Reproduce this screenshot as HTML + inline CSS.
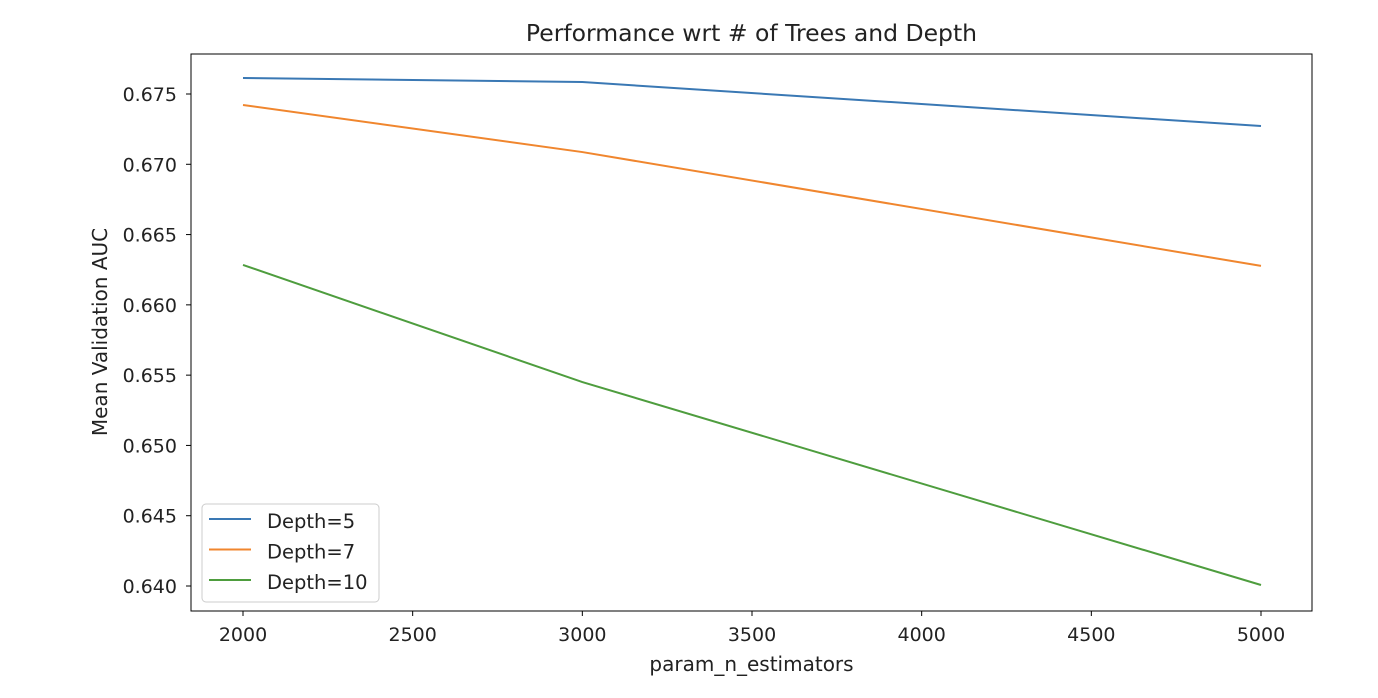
<!DOCTYPE html>
<html><head><meta charset="utf-8"><style>
body{margin:0;background:#fff;}
svg{display:block;font-family:"DejaVu Sans","Liberation Sans",sans-serif;}
</style></head><body>
<svg id="chart" width="1378" height="698">
<g id="plot"></g>
</svg>
<script>
const xValues=[2000,3000,5000];
const depth5=[0.67614,0.67585,0.67272];
const depth7=[0.67422,0.67087,0.66277];
const depth10=[0.66284,0.65451,0.64007];
const xTicks=[2000,2500,3000,3500,4000,4500,5000];
const yTicks=[0.640,0.645,0.650,0.655,0.660,0.665,0.670,0.675];
const seriesNames=["Depth=5","Depth=7","Depth=10"];
const colors=["#3a78b4","#f0862e","#4e9d3e"];
const L=191,R=1312,T=54,B=611;
const xs=v=>243+(v-2000)*(1261-243)/3000;
const ys=v=>586-(v-0.640)*(586-94)/0.035;
const NS="http://www.w3.org/2000/svg";
const g=document.getElementById('plot');
function mk(t,a,p){const e=document.createElementNS(NS,t);for(const k in a)e.setAttribute(k,a[k]);(p||g).appendChild(e);return e;}
const frame=mk('rect',{x:L,y:T,width:R-L,height:B-T,fill:'none',stroke:'#000','stroke-width':1});


xTicks.forEach(v=>{
 const x=xs(v);
 const t=mk('line',{x1:x,x2:x,y1:B,y2:B+5,stroke:'#000'});
 
 
 const l=mk('text',{x:x,y:B+30,'text-anchor':'middle','font-size':19,fill:'#222'});l.textContent=v;
 
 
});
yTicks.forEach(v=>{
 const y=ys(v);
 const t=mk('line',{x1:L-5,x2:L,y1:y,y2:y,stroke:'#000'});
 
 
 const l=mk('text',{x:L-14,y:y+7,'text-anchor':'end','font-size':19,fill:'#222'});l.textContent=v.toFixed(3);
 
 
});
[depth5,depth7,depth10].forEach((s,i)=>{
 const p=mk('polyline',{points:s.map((v,j)=>xs(xValues[j])+','+ys(v)).join(' '),fill:'none',stroke:colors[i],'stroke-width':2});
 
 
});
const title=mk('text',{x:(L+R)/2,y:41,'text-anchor':'middle','font-size':23.5,fill:'#222'});title.textContent='Performance wrt # of Trees and Depth';


const xt=mk('text',{x:(L+R)/2,y:671,'text-anchor':'middle','font-size':20,fill:'#222'});xt.textContent='param_n_estimators';


const yt=mk('text',{x:0,y:0,'text-anchor':'middle','font-size':20,fill:'#222',transform:'translate(107,332) rotate(-90)'});yt.textContent='Mean Validation AUC';


const lg=mk('g',{});


mk('rect',{x:202,y:504,width:177,height:98,rx:4,fill:'#fff',stroke:'#ccc'},lg);
seriesNames.forEach((n,i)=>{
 const y=519+i*30.5;
 const ln=mk('line',{x1:209,x2:251,y1:y,y2:y,stroke:colors[i],'stroke-width':2},lg);
 
 
 const t=mk('text',{x:267,y:y+9,'font-size':19.5,fill:'#222'},lg);t.textContent=n;
 
 
});
</script>
</body></html>
